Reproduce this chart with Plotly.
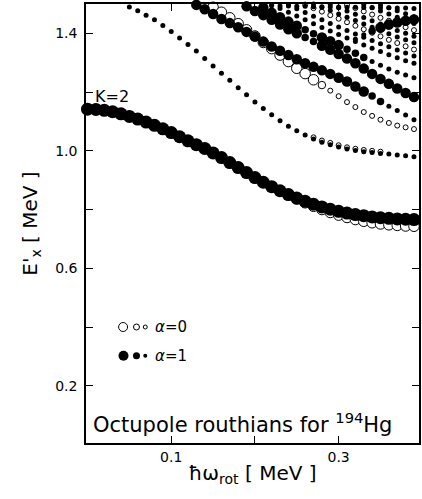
import plotly.graph_objects as go

# ---------------- data ----------------
X_GRID = [0.00, 0.01, 0.02, 0.03, 0.04, 0.05, 0.06, 0.07, 0.08, 0.09,
          0.10, 0.11, 0.12, 0.13, 0.14, 0.15, 0.16, 0.17, 0.18, 0.19,
          0.20, 0.21, 0.22, 0.23, 0.24, 0.25, 0.26, 0.27, 0.28, 0.29,
          0.30, 0.31, 0.32, 0.33, 0.34, 0.35, 0.36, 0.37, 0.38, 0.39]

# K=2 band (alpha=1 filled, alpha=0 open), start x = 0.00
K2_FILLED_Y = [1.142, 1.141, 1.138, 1.133, 1.126, 1.117, 1.108, 1.098, 1.087, 1.075,
               1.062, 1.048, 1.034, 1.021, 1.008, 0.993, 0.977, 0.960, 0.943, 0.926,
               0.909, 0.893, 0.878, 0.864, 0.851, 0.839, 0.828, 0.818, 0.809, 0.801,
               0.794, 0.788, 0.783, 0.779, 0.775, 0.772, 0.770, 0.768, 0.767, 0.766]
K2_FILLED_W = "XXXXXXXXXXXXXXXXXXXXXXXXXXXXXXXXXXXXXXXX"
K2_OPEN_Y = [1.142, 1.141, 1.138, 1.133, 1.126, 1.117, 1.108, 1.098, 1.087, 1.075,
             1.062, 1.048, 1.034, 1.021, 1.008, 0.993, 0.977, 0.960, 0.943, 0.926,
             0.909, 0.893, 0.878, 0.864, 0.850, 0.836, 0.823, 0.811, 0.800, 0.790,
             0.781, 0.773, 0.766, 0.760, 0.755, 0.751, 0.748, 0.746, 0.744, 0.743]
K2_OPEN_W = "LLLLLLLLLLLLLLLLLLLLLLLLLLLLLLLLLLLLLLLL"

# weak band, start x = 0.05
A_FILLED_Y = [1.490, 1.477, 1.462, 1.446, 1.427, 1.406, 1.384, 1.362, 1.340, 1.314,
              1.289, 1.264, 1.240, 1.215, 1.191, 1.166, 1.144, 1.123, 1.102, 1.084,
              1.068, 1.054, 1.040, 1.029, 1.021, 1.013, 1.006, 1.001, 0.997, 0.994,
              0.991, 0.989, 0.986, 0.983, 0.980]
A_FILLED_W = "SSSSSSSSSSSSSSSSSSSSSSSSSSSSSSSSSSS"
# start x = 0.27
A_OPEN_Y = [1.046, 1.035, 1.027, 1.019, 1.012, 1.007, 1.003, 1.000, 0.997]
A_OPEN_W = "SSSSSSSSS"

# second strong band, filled start x = 0.13, open start x = 0.14
B_FILLED_Y = [1.497, 1.482, 1.466, 1.449, 1.435, 1.421, 1.405, 1.389, 1.372, 1.355,
              1.341, 1.326, 1.312, 1.298, 1.286, 1.274, 1.262, 1.249, 1.236, 1.219,
              1.202, 1.187, 1.168, 1.152, 1.137, 1.122, 1.106]
B_FILLED_W = "LLLLLLLLLLLLLLLLLLLLLMMSSSS"
B_OPEN_Y = [1.504, 1.489, 1.472, 1.453, 1.433, 1.412, 1.391, 1.369, 1.348, 1.326,
            1.304, 1.281, 1.263, 1.242, 1.224, 1.205, 1.186, 1.166, 1.149, 1.132,
            1.119, 1.106, 1.095, 1.086, 1.080, 1.074]
B_OPEN_W = "LLLLLLLLLLLLLLMSSSSSSSSSSS"

# upper strong pair, D1 start x = 0.18, D2 start x = 0.20
D1_FILLED_Y = [1.505, 1.492, 1.476, 1.462, 1.446, 1.430, 1.414, 1.400, 1.386, 1.372,
               1.358, 1.344, 1.330, 1.314, 1.298, 1.280, 1.262, 1.245, 1.228, 1.212,
               1.197, 1.183]
D1_FILLED_W = "LLLLLLLLMMLLLLLLLLLLLL"
D2_FILLED_Y = [1.505, 1.488, 1.470, 1.455, 1.440, 1.426, 1.412, 1.399, 1.386, 1.373,
               1.360, 1.346, 1.332, 1.318, 1.304, 1.291, 1.279, 1.268, 1.258, 1.249]
D2_FILLED_W = "LLLLLLMMLLLMMMSSSSSS"

# near-flat strong level at upper right, start x = 0.32
F_FILLED_Y = [1.380, 1.395, 1.408, 1.420, 1.430, 1.437, 1.443, 1.447]
F_FILLED_W = "SSMLLLLL"

# dense weak levels in the upper right
S1_X0, S1_Y = 0.22, [1.497, 1.485, 1.472, 1.459, 1.446, 1.433, 1.420, 1.408, 1.396,
                     1.384, 1.372, 1.360, 1.349, 1.338, 1.327, 1.317, 1.307, 1.298]
S2_X0, S2_Y = 0.24, [1.497, 1.484, 1.471, 1.458, 1.446, 1.434, 1.422, 1.410, 1.398,
                     1.387, 1.376, 1.365, 1.354, 1.343, 1.333, 1.323]
S3_X0, S3_Y = 0.26, [1.498, 1.486, 1.474, 1.462, 1.450, 1.438, 1.426, 1.414, 1.402,
                     1.390, 1.378, 1.367, 1.356, 1.345]
S4_X0, S4_Y = 0.27, [1.500, 1.489, 1.478, 1.466, 1.455, 1.444, 1.432, 1.421, 1.410,
                     1.399, 1.388, 1.378, 1.368]
S5_X0, S5_Y = 0.29, [1.498, 1.487, 1.476, 1.465, 1.454, 1.443, 1.432, 1.421, 1.410,
                     1.400, 1.390]
S6_X0, S6_Y = 0.31, [1.497, 1.486, 1.475, 1.464, 1.453, 1.443, 1.432, 1.421, 1.411]
S7_X0, S7_Y = 0.33, [1.498, 1.487, 1.476, 1.466, 1.455, 1.444, 1.434]
S8_X0, S8_Y = 0.35, [1.497, 1.487, 1.477, 1.467, 1.457]
S9_X0, S9_Y = 0.21, [1.494, 1.494, 1.493, 1.493, 1.492, 1.492, 1.491, 1.491, 1.490,
                     1.490, 1.489, 1.489, 1.488, 1.488, 1.487, 1.487, 1.486, 1.486, 1.485]

Y_MAJOR_TICKS = [0.2, 0.6, 1.0, 1.4]
Y_MINOR_TICKS = [0.4, 0.8, 1.2]
X_MAJOR_TICKS = [0.1, 0.3]
X_MINOR_TICKS = [0.2]

# ---------------- styling ----------------
SIZE_PX = {"X": 13, "L": 10.5, "M": 7.5, "S": 5}
FONT = "DejaVu Sans"


def xs_from(x0, n):
    i = X_GRID.index(x0)
    return X_GRID[i:i + n]


def sizes(codes):
    return [SIZE_PX[c] for c in codes]


fig = go.Figure()


def add_open(x0, ys, codes):
    fig.add_trace(go.Scatter(
        x=xs_from(x0, len(ys)), y=ys, mode="markers", showlegend=False,
        cliponaxis=False, hoverinfo="skip",
        marker=dict(symbol="circle", size=sizes(codes), color="white", opacity=1,
                    line=dict(color="black", width=1))))


def add_filled(x0, ys, codes):
    fig.add_trace(go.Scatter(
        x=xs_from(x0, len(ys)), y=ys, mode="markers", showlegend=False,
        cliponaxis=False, hoverinfo="skip",
        marker=dict(symbol="circle", size=sizes(codes), color="black", opacity=1,
                    line=dict(width=0))))


# open (alpha = 0) levels first
add_open(0.00, K2_OPEN_Y, K2_OPEN_W)
add_open(0.27, A_OPEN_Y, A_OPEN_W)
add_open(0.14, B_OPEN_Y, B_OPEN_W)
add_open(S3_X0, S3_Y, "S" * len(S3_Y))
add_open(S6_X0, S6_Y, "S" * len(S6_Y))

# filled (alpha = 1) levels on top
add_filled(0.00, K2_FILLED_Y, K2_FILLED_W)
add_filled(0.05, A_FILLED_Y, A_FILLED_W)
add_filled(0.13, B_FILLED_Y, B_FILLED_W)
add_filled(0.18, D1_FILLED_Y, D1_FILLED_W)
add_filled(0.20, D2_FILLED_Y, D2_FILLED_W)
add_filled(0.32, F_FILLED_Y, F_FILLED_W)
add_filled(S1_X0, S1_Y, "S" * len(S1_Y))
add_filled(S2_X0, S2_Y, "S" * len(S2_Y))
add_filled(S4_X0, S4_Y, "S" * len(S4_Y))
add_filled(S5_X0, S5_Y, "S" * len(S5_Y))
add_filled(S7_X0, S7_Y, "S" * len(S7_Y))
add_filled(S8_X0, S8_Y, "S" * len(S8_Y))
add_filled(S9_X0, S9_Y, "S" * len(S9_Y))

# ---------------- legend glyphs (shapes) ----------------
shapes = []
for xa, d in ((0.0425, 9), (0.0585, 6), (0.069, 4)):
    shapes.append(dict(type="circle", xref="x", yref="y", xsizemode="pixel",
                       ysizemode="pixel", xanchor=xa, yanchor=0.40,
                       x0=-d / 2, x1=d / 2, y0=-d / 2, y1=d / 2,
                       line=dict(color="black", width=1), fillcolor="white"))
for xa, d in ((0.043, 10), (0.0585, 7), (0.069, 4)):
    shapes.append(dict(type="circle", xref="x", yref="y", xsizemode="pixel",
                       ysizemode="pixel", xanchor=xa, yanchor=0.302,
                       x0=-d / 2, x1=d / 2, y0=-d / 2, y1=d / 2,
                       line=dict(color="black", width=0), fillcolor="black"))

annotations = [
    dict(x=0.078, y=0.40, xref="x", yref="y", text="<i>α</i>=0", showarrow=False,
         xanchor="left", yanchor="middle", font=dict(size=15, color="black", family=FONT)),
    dict(x=0.078, y=0.302, xref="x", yref="y", text="<i>α</i>=1", showarrow=False,
         xanchor="left", yanchor="middle", font=dict(size=15, color="black", family=FONT)),
    dict(x=0.007, y=1.185, xref="x", yref="y", text="K=2", showarrow=False,
         xanchor="left", yanchor="middle", font=dict(size=16, color="black", family=FONT)),
    dict(x=0.004, y=0.074, xref="x", yref="y",
         text="Octupole routhians for <sup>194</sup>Hg", showarrow=False,
         xanchor="left", yanchor="middle", font=dict(size=21, color="black", family=FONT)),
]

fig.update_layout(
    width=422, height=499,
    margin=dict(l=86, r=1, t=4, b=56),
    paper_bgcolor="white", plot_bgcolor="white",
    font=dict(family=FONT, color="black", size=14),
    shapes=shapes, annotations=annotations,
    showlegend=False,
)

fig.update_xaxes(
    range=[-0.0018, 0.396], showgrid=False, zeroline=False,
    showline=True, linecolor="black", linewidth=1.5, mirror="ticks",
    ticks="inside", ticklen=7, tickwidth=1, tickcolor="black",
    tickvals=X_MAJOR_TICKS, ticktext=[f"{v:.1f}" for v in X_MAJOR_TICKS],
    minor=dict(tickvals=X_MINOR_TICKS, ticks="inside", ticklen=7, tickwidth=1,
               tickcolor="black", showgrid=False),
    tickfont=dict(size=14),
    title=dict(text="ħω<sub>rot</sub> [ MeV ]", font=dict(size=20), standoff=2),
)
fig.update_yaxes(
    range=[0.005, 1.5], showgrid=False, zeroline=False,
    showline=True, linecolor="black", linewidth=1.5, mirror="ticks",
    ticks="inside", ticklen=7, tickwidth=1, tickcolor="black",
    tickvals=Y_MAJOR_TICKS, ticktext=[f"{v:.1f}" for v in Y_MAJOR_TICKS],
    minor=dict(tickvals=Y_MINOR_TICKS, ticks="inside", ticklen=7, tickwidth=1,
               tickcolor="black", showgrid=False),
    tickfont=dict(size=14), ticklabelstandoff=4,
    title=dict(text="E'<sub>x</sub> [ MeV ]", font=dict(size=20), standoff=12),
)

fig.write_html("out.html")
